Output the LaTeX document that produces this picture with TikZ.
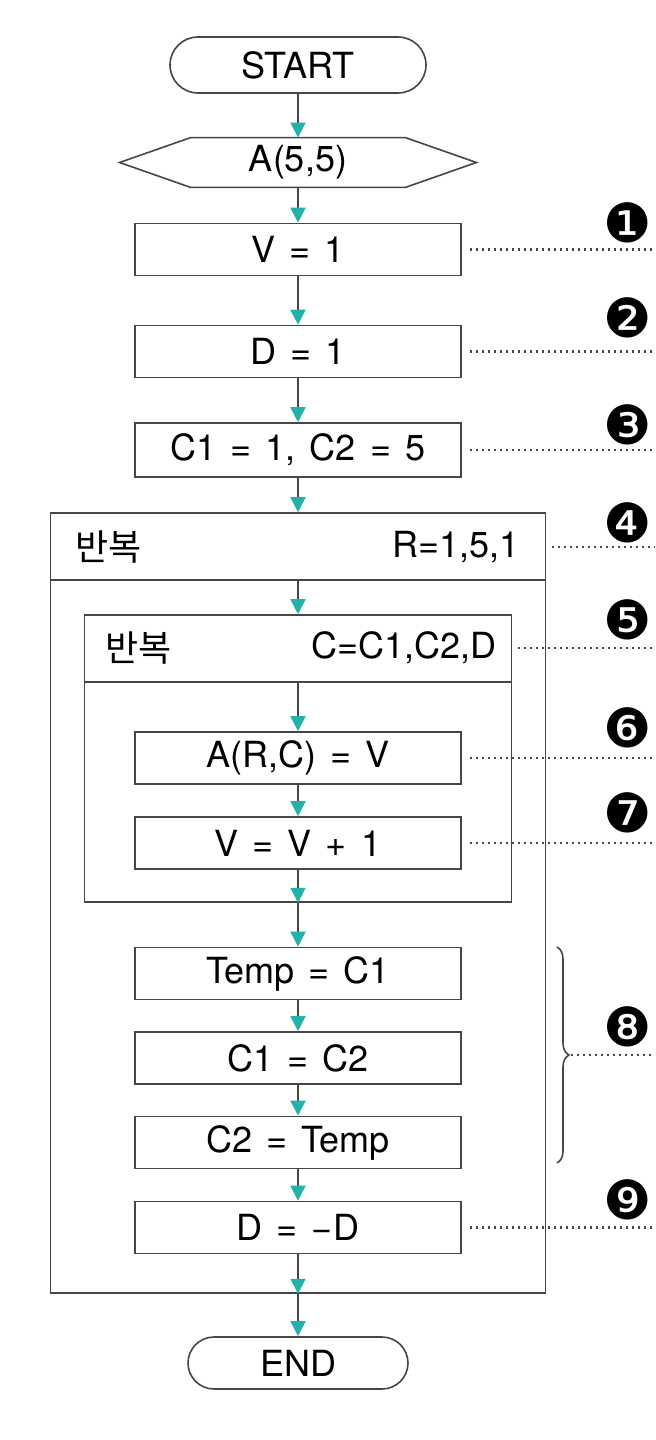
\documentclass[tikz,border=0pt]{standalone}
\usepackage{fontspec}
\setmainfont[WordSpace=1.4]{TeX Gyre Heros}
\newfontfamily\krfont{Noto Sans CJK KR}
\newfontfamily\numfont{DejaVu Sans}
\usetikzlibrary{arrows.meta,shapes.misc,decorations.pathreplacing}
\definecolor{linegray}{HTML}{464646}
\definecolor{arrowteal}{HTML}{22B2AA}
\tikzstyle{boxline} = [draw=linegray, line width=0.8pt]
\tikzstyle{box} = [boxline, minimum width=163pt, minimum height=26pt, inner sep=0pt]
\tikzstyle{terminal} = [boxline, rounded rectangle, inner sep=0pt]
\tikzstyle{loopbox} = [boxline, inner sep=0pt]
\tikzstyle{flow} = [boxline, -{Triangle[length=7.5pt,width=7.5pt,color=arrowteal]}]
\tikzstyle{leader} = [draw=linegray, line width=1.1pt, dash pattern=on 1pt off 2pt]
\tikzstyle{tagnum} = [font=\numfont\fontsize{27}{27}\selectfont, inner sep=0pt]
\tikzstyle{headtext} = [inner sep=0pt]

\begin{document}
\begin{tikzpicture}[x=0.5pt,y=-0.5pt,every node/.style={font=\fontsize{18}{21}\selectfont}]
    \useasboundingbox (0,0) rectangle (655,1440);
    \coordinate (rim) at (655,0);
    % loops
    \node[loopbox, minimum width=247.5pt, minimum height=390pt] (outer) at (298,903) {};
    \node[loopbox, minimum width=213.5pt, minimum height=143.5pt] (inner) at (298,758.5) {};
    \coordinate (ohline) at (298,580);
    \coordinate (ihline) at (298,682);
    \draw[boxline] (outer.west |- ohline) -- (outer.east |- ohline);
    \draw[boxline] (inner.west |- ihline) -- (inner.east |- ihline);
    \node[headtext, anchor=west] (okey) at (75,547) {\krfont 반복};
    \node[headtext, anchor=east] (ohead) at (520,547) {R=1,5,1};
    \node[headtext, anchor=west] (ikey) at (105,648) {\krfont 반복};
    \node[headtext, anchor=east] (ihead) at (497,648) {C=C1,C2,D};
    % steps
    \node[terminal, minimum width=128pt, minimum height=28pt] (start) at (298,65) {START};
    \node[inner sep=0pt, minimum width=178pt, minimum height=24.5pt] (dim) at (298,162.5) {A(5,5)};
    \draw[boxline] (dim.west) -- ([xshift=35.5pt]dim.north west) -- ([xshift=-35.5pt]dim.north east)
        -- (dim.east) -- ([xshift=-35.5pt]dim.south east) -- ([xshift=35.5pt]dim.south west) -- cycle;
    \node[box] (v1) at (298,249.5) {V = 1};
    \node[box] (d1) at (298,351.5) {D = 1};
    \node[box, minimum height=27pt] (c12) at (298,450) {C1 = 1, C2 = 5};
    \node[box] (arc) at (298,758) {A(R,C) = V};
    \node[box] (vinc) at (298,843) {V = V + 1};
    \node[box] (temp) at (298,973.5) {Temp = C1};
    \node[box] (c1c2) at (298,1058) {C1 = C2};
    \node[box] (c2t) at (298,1142.5) {C2 = Temp};
    \node[box] (negd) at (298,1227.5) {D = −D};
    \node[terminal, minimum width=110pt, minimum height=26pt] (end) at (298,1363) {END};
    % arrows
    \draw[flow] (start) -- (dim.north);
    \draw[flow] (dim.south) -- (v1);
    \draw[flow] (v1) -- (d1);
    \draw[flow] (d1) -- (c12);
    \draw[flow] (c12) -- (outer.north);
    \draw[flow] (ohline) -- (inner.north);
    \draw[flow] (ihline) -- (arc);
    \draw[flow] (arc) -- (vinc);
    \draw[flow] (vinc) -- (inner.south);
    \draw[flow] (inner.south) -- (temp);
    \draw[flow] (temp) -- (c1c2);
    \draw[flow] (c1c2) -- (c2t);
    \draw[flow] (c2t) -- (negd);
    \draw[flow] (negd) -- (outer.south);
    \draw[flow] (outer.south) -- (end);
    % brace over the swap
    \draw[boxline, decorate, decoration={brace, amplitude=6pt}] (557,947) -- (557,1163);
    \coordinate (bracetip) at (571,1055);
    % numbered notes
    \foreach \i/\c/\y in {1/❶/223,2/❷/318,3/❸/425,4/❹/523,5/❺/620,6/❻/728,7/❼/813,8/❽/1027,9/❾/1200}
        \node[tagnum] (tag\i) at (628,\y) {\c};
    \foreach \src in {v1,d1,c12,arc,vinc,negd}
        \draw[leader] ([xshift=4pt]\src.east) -- (\src.east -| rim);
    \draw[leader] ([xshift=3pt]outer.east |- ohead) -- (ohead -| rim);
    \draw[leader] ([xshift=3pt]inner.east |- ihead) -- (ihead -| rim);
    \draw[leader] (bracetip) -- (bracetip -| rim);
\end{tikzpicture}
\end{document}
